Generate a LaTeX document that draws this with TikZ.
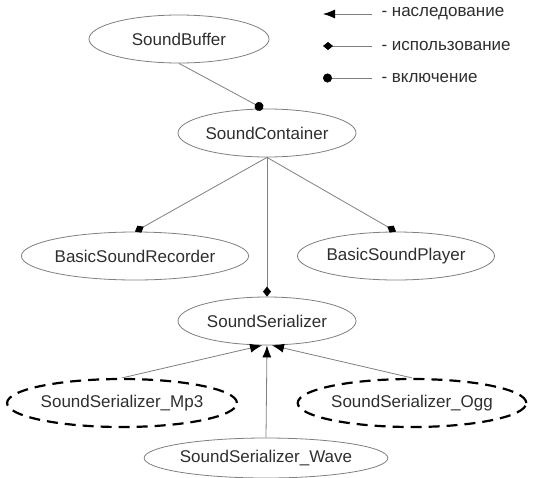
\documentclass[tikz,border=0pt]{standalone}
\usepackage{fontspec}
\setmainfont{Liberation Sans}
\usetikzlibrary{arrows.meta,shapes.geometric}
\definecolor{txtgray}{HTML}{2E2E2E}
\definecolor{edgegray}{HTML}{7F7F7F}

\begin{document}
\begin{tikzpicture}[x=1pt, y=-1pt,
  every node/.style={font=\fontsize{17}{20}\selectfont, text=txtgray},
  cls/.style={ellipse, draw=edgegray, line width=0.8pt, minimum height=48pt, inner sep=0pt},
  impl/.style={ellipse, draw=black, line width=2.2pt, dash pattern=on 11pt off 7pt, minimum height=48pt, inner sep=0pt},
  conn/.style={draw=edgegray, line width=0.8pt},
  inherit/.style={conn, -{Latex[black,length=12pt,width=9pt]}},
  uses/.style={conn, -{Diamond[black,length=10pt,width=8pt]}},
  owns/.style={conn, -{Circle[black,length=9pt]}}]
  \useasboundingbox (0,0) rectangle (538,477);
  % classes
  \node[cls, minimum width=180pt] (sb) at (179,39) {SoundBuffer};
  \node[cls, minimum width=178pt] (sc) at (267,133) {SoundContainer};
  \node[cls, minimum width=207pt] (rec) at (135,256) {BasicSoundRecorder};
  \node[cls, minimum width=197pt] (pl) at (396,256) {BasicSoundPlayer};
  \node[cls, minimum width=178pt] (ss) at (267,321) {SoundSerializer};
  \node[impl, minimum width=219pt] (mp3) at (122,403) {SoundSerializer\_Mp3};
  \node[impl, minimum width=217pt] (ogg) at (412,403) {SoundSerializer\_Ogg};
  \node[cls, minimum width=218pt, minimum height=40pt] (wave) at (266,458) {SoundSerializer\_Wave};
  % relations
  \draw[owns] (sb.south) -- ([xshift=-4pt]sc.north);
  \draw[uses] (sc.south) -- (rec.north);
  \draw[uses] (sc.south) -- (pl.north);
  \draw[uses] (sc.south) -- (ss.north);
  \draw[inherit] (mp3.north) -- ([xshift=-5pt]ss.south);
  \draw[inherit] (wave.north) -- (ss.south);
  \draw[inherit] (ogg.north) -- ([xshift=5pt]ss.south);
  % legend
  \coordinate (l1b) at (372,14); \coordinate (l1a) at (323,14);
  \coordinate (l2b) at (372,46); \coordinate (l2a) at (323,46);
  \coordinate (l3b) at (372,78); \coordinate (l3a) at (323,78);
  \draw[inherit] (l1b) -- (l1a);
  \draw[uses] (l2b) -- (l2a);
  \draw[owns] (l3b) -- (l3a);
  \node[anchor=west] (t1) at (378,14) {- наследование};
  \node[anchor=west] (t2) at (378,46) {- использование};
  \node[anchor=west] (t3) at (378,78) {- включение};
\end{tikzpicture}
\end{document}
